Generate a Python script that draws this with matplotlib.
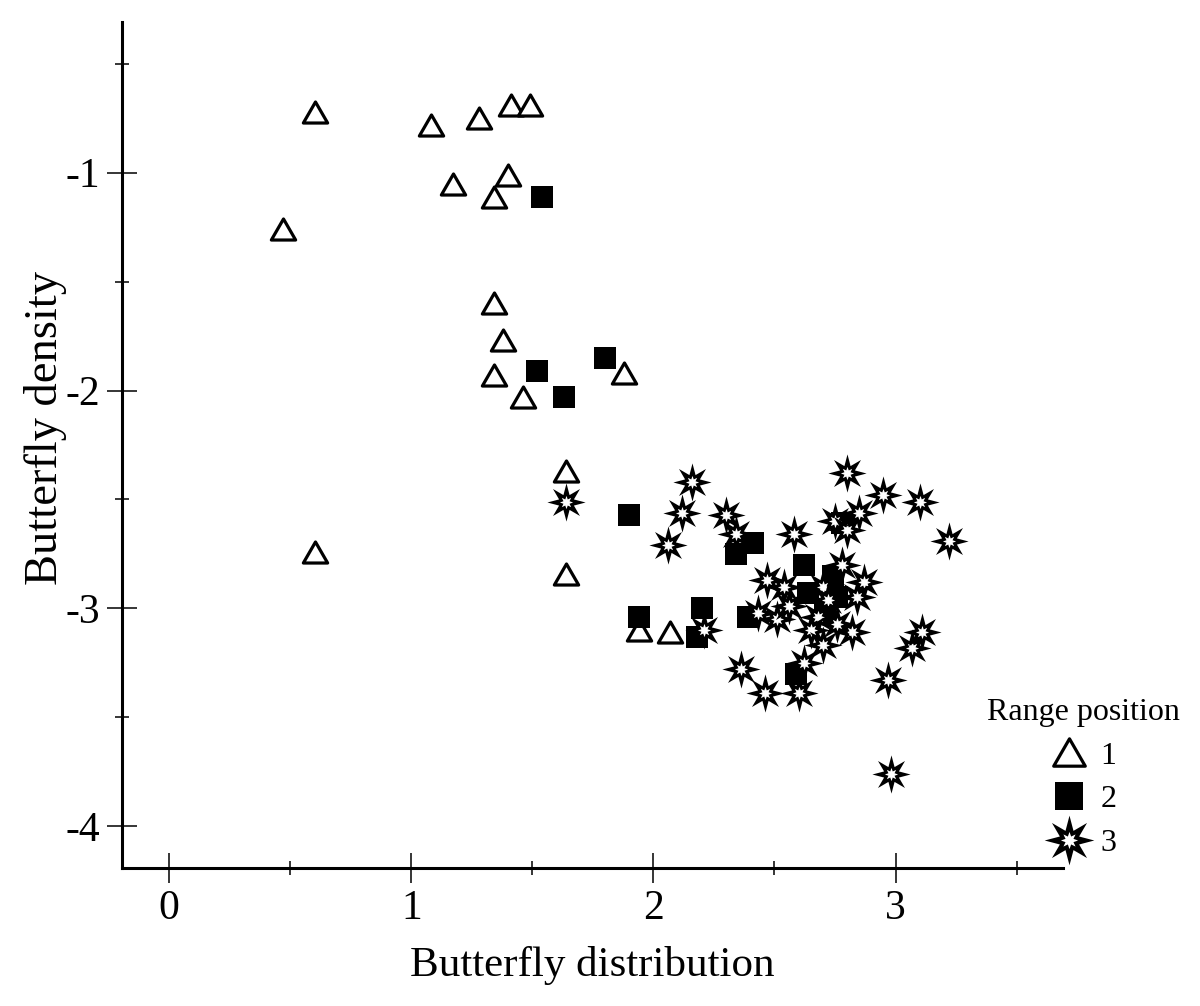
import numpy as np
import matplotlib.pyplot as plt
from matplotlib.path import Path
from matplotlib.markers import MarkerStyle
from matplotlib.legend_handler import HandlerTuple

plt.rcParams['font.family'] = ['Liberation Serif', 'DejaVu Serif']
plt.rcParams['axes.unicode_minus'] = False

# range position 1 (open triangles)
tri_x = [0.60, 0.47, 1.08, 1.28, 1.41, 1.49, 1.17, 1.40, 1.34, 1.34,
         1.38, 1.34, 1.46, 1.88, 1.64, 0.60, 1.64, 1.94, 2.07]
tri_y = [-0.72, -1.26, -0.78, -0.75, -0.69, -0.69, -1.05, -1.01, -1.11, -1.60,
         -1.77, -1.93, -2.03, -1.92, -2.37, -2.74, -2.84, -3.10, -3.11]

# range position 2 (filled squares)
sq_x = [1.54, 1.52, 1.63, 1.80, 1.90, 1.94, 2.18, 2.20, 2.34, 2.41,
        2.39, 2.62, 2.59, 2.74, 2.64, 2.76, 2.78, 2.71]
sq_y = [-1.11, -1.91, -2.03, -1.85, -2.57, -3.04, -3.13, -3.00, -2.75, -2.70,
        -3.04, -2.80, -3.30, -2.85, -2.93, -2.95, -2.61, -3.02]

# range position 3 (stars)
st_x = [1.64, 2.16, 2.12, 2.06, 2.30, 2.34, 2.58, 2.80, 2.95, 3.10,
        3.22, 2.75, 2.80, 2.85, 2.78, 2.87, 2.84, 2.82, 2.70, 2.72,
        2.68, 2.76, 2.65, 2.70, 2.62, 2.60, 2.97, 3.07, 3.11, 2.54,
        2.51, 2.47, 2.43, 2.21, 2.36, 2.46, 2.56, 2.98]
st_y = [-2.51, -2.42, -2.56, -2.71, -2.57, -2.66, -2.66, -2.38, -2.48, -2.51,
        -2.69, -2.60, -2.64, -2.56, -2.80, -2.88, -2.95, -3.11, -2.90, -2.96,
        -3.04, -3.07, -3.10, -3.17, -3.25, -3.39, -3.33, -3.18, -3.11, -2.90,
        -3.05, -2.87, -3.02, -3.10, -3.28, -3.39, -2.99, -3.76]

groups = ['1', '2', '3']


def star(inner):
    ang = np.pi / 2 + np.arange(16) * np.pi / 8
    rad = np.where(np.arange(16) % 2 == 0, 1.0, inner)
    v = np.column_stack([rad * np.cos(ang), rad * np.sin(ang)])
    return Path(np.vstack([v, v[:1]]), closed=True)


tri_path = Path([(-1, -0.866), (1, -0.866), (0, 0.866), (-1, -0.866)], closed=True)
star_out = star(0.42)
star_in = star(0.50)

fig = plt.figure(figsize=(12, 10.06), dpi=100)
ax = fig.add_axes([0.1017, 0.1372, 0.7842, 0.8407])

h1, = ax.plot(tri_x, tri_y, ls='none', marker=MarkerStyle(tri_path, joinstyle='miter'),
              ms=17.5, mfc='white', mec='black', mew=2.3, zorder=3)
h2, = ax.plot(sq_x, sq_y, ls='none', marker='s', ms=15.5, mfc='black', mec='black',
              mew=0, zorder=3.1)

# each star: black body with a small white centre, drawn one after another
for i, (x, y) in enumerate(zip(st_x, st_y)):
    z = 3.2 + 0.01 * i
    ax.plot([x], [y], ls='none', marker=star_out, ms=27.5, mfc='black', mew=0, zorder=z)
    ax.plot([x], [y], ls='none', marker=star_in, ms=9.5, mfc='white', mew=0, zorder=z + 0.005)

h3a, = ax.plot([], [], ls='none', marker=star_out, ms=27.5, mfc='black', mew=0)
h3b, = ax.plot([], [], ls='none', marker=star_in, ms=9.5, mfc='white', mew=0)

ax.set_xlim(-0.195, 3.692)
ax.set_ylim(-4.192, -0.309)
ax.set_xticks([0, 1, 2, 3])
ax.set_xticks([0.5, 1.5, 2.5, 3.5], minor=True)
ax.set_yticks([-4, -3, -2, -1])
ax.set_yticks([-3.5, -2.5, -1.5, -0.5], minor=True)

for s in ['top', 'right']:
    ax.spines[s].set_visible(False)
for s in ['left', 'bottom']:
    ax.spines[s].set_linewidth(2.2)

ax.tick_params(which='major', direction='inout', length=21.6, width=1.1,
               labelsize=30, pad=5)
ax.tick_params(which='minor', direction='inout', length=10.5, width=1.1)

ax.set_xlabel('Butterfly distribution', fontsize=31)
ax.set_ylabel('Butterfly density', fontsize=33.5)
ax.xaxis.set_label_coords(0.5, -0.092)
ax.yaxis.set_label_coords(-0.058, 0.52)

leg = ax.legend([h1, h2, (h3a, h3b)], groups, loc='center',
                bbox_to_anchor=(0.9025, 0.2266), bbox_transform=fig.transFigure,
                frameon=False, title='Range position', fontsize=23,
                title_fontsize=23, markerscale=1.3, handlelength=1.2,
                handletextpad=0.4, labelspacing=0.45,
                handler_map={tuple: HandlerTuple(ndivide=1, pad=0)})

fig.savefig('out.png', dpi=100)
